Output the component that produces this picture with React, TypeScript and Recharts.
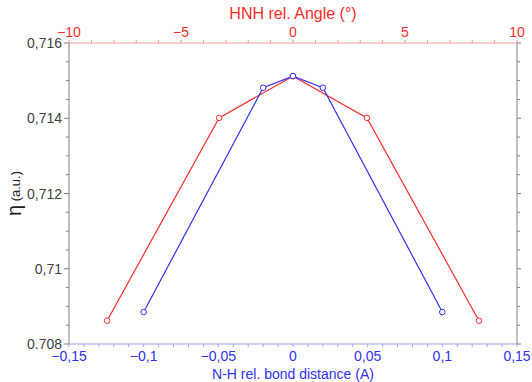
import { LineChart, Line, XAxis, YAxis } from "recharts";

// red series is plotted against the top (angle) axis, blue against the bottom (distance) axis
const angleDeg = [-8.3, -3.3, 0, 3.3, 8.3];
const etaAngle = [0.70862, 0.71401, 0.71512, 0.71401, 0.70862];
const bondDist = [-0.1, -0.02, 0, 0.02, 0.1];
const etaBond = [0.70885, 0.71481, 0.71512, 0.71481, 0.70885];

const yMajor = [0.708, 0.71, 0.712, 0.714, 0.716];
const yLabels = ["0.708", "0,71", "0,712", "0,714", "0,716"];
const topMajor = [-10, -5, 0, 5, 10];
const topLabels = ["\u221210", "\u22125", "0", "5", "10"];
const bottomMajor = [-0.15, -0.1, -0.05, 0, 0.05, 0.1, 0.15];
const bottomLabels = ["\u22120,15", "\u22120,1", "\u22120,05", "0", "0,05", "0,1", "0,15"];

const RED = "#ff2b2b";
const BLUE = "#3030f0";
const FONT = "'Liberation Sans', Arial, sans-serif";

const angleData = angleDeg.map((x, i) => ({ x, y: etaAngle[i] }));
const bondData = bondDist.map((x, i) => ({ x, y: etaBond[i] }));

// minor tick positions between the labelled ones
const steps = (from: number, to: number, step: number) => {
  const out: number[] = [];
  const n = Math.round((to - from) / step);
  for (let i = 0; i <= n; i++) out.push(Number((from + i * step).toFixed(6)));
  return out;
};
const yTicks = steps(0.708, 0.716, 0.0005);
const topTicks = steps(-10, 10, 1);
const bottomTicks = steps(-0.15, 0.15, 0.01);

const labelFor = (v: number, majors: number[], labels: string[]) => {
  const i = majors.findIndex((m) => Math.abs(m - v) < 1e-7);
  return i < 0 ? null : labels[i];
};

const LeftTick = (p: any) => {
  const lab = labelFor(p.payload.value, yMajor, yLabels);
  return (
    <g>
      <line x1={p.x} x2={p.x - (lab ? 5 : 3)} y1={p.y} y2={p.y} stroke="#808080" />
      {lab && (
        <text x={p.x - 7} y={p.y + 5} textAnchor="end" fontSize={14} fill="#404040" fontFamily={FONT}>
          {lab}
        </text>
      )}
    </g>
  );
};

const RightTick = (p: any) => {
  const lab = labelFor(p.payload.value, yMajor, yLabels);
  return <line x1={p.x} x2={p.x + (lab ? 4 : 3)} y1={p.y} y2={p.y} stroke="#808080" />;
};

const TopTick = (p: any) => {
  const lab = labelFor(p.payload.value, topMajor, topLabels);
  return (
    <g>
      <line x1={p.x} x2={p.x} y1={p.y} y2={p.y - 3} stroke="#f49a9a" />
      {lab && (
        <text x={p.x} y={p.y - 6} textAnchor="middle" fontSize={14} fill={RED} fontFamily={FONT}>
          {lab}
        </text>
      )}
    </g>
  );
};

const BottomTick = (p: any) => {
  const lab = labelFor(p.payload.value, bottomMajor, bottomLabels);
  return (
    <g>
      <line x1={p.x} x2={p.x} y1={p.y} y2={p.y + 3} stroke="#a0a4f2" />
      {lab && (
        <text x={p.x} y={p.y + 17} textAnchor="middle" fontSize={14} fill={BLUE} fontFamily={FONT}>
          {lab}
        </text>
      )}
    </g>
  );
};

const YTitle = (p: any) => {
  const vb = p.viewBox || { x: 0, y: 43, height: 301 };
  const cx = vb.x + 21;
  const cy = vb.y + vb.height / 2;
  return (
    <text
      x={cx}
      y={cy}
      transform={`rotate(-90 ${cx} ${cy})`}
      textAnchor="middle"
      fill="#202020"
      fontFamily={FONT}
    >
      <tspan fontSize={20}>{"\u03b7"}</tspan>
      <tspan fontSize={13} dy={-1}>{" (a.u.)"}</tspan>
    </text>
  );
};

export default function App() {
  return (
    <div style={{ position: "absolute", left: 0, top: 0, background: "#fff" }}>
      <LineChart width={532} height={382} margin={{ top: 0, right: 0, bottom: 0, left: 0 }}>
        <XAxis
          xAxisId="top"
          orientation="top"
          type="number"
          dataKey="x"
          domain={[-10, 10]}
          ticks={topTicks}
          interval={0}
          height={43}
          tickSize={0}
          tickMargin={0}
          tick={TopTick}
          axisLine={{ stroke: "#f49a9a" }}
          label={{
            value: "HNH rel. Angle (\u00b0)",
            position: "insideTop",
            offset: 8,
            fill: RED,
            fontSize: 16,
            fontFamily: FONT,
          }}
        />
        <XAxis
          xAxisId="bottom"
          orientation="bottom"
          type="number"
          dataKey="x"
          domain={[-0.15, 0.15]}
          ticks={bottomTicks}
          interval={0}
          height={38}
          tickSize={0}
          tickMargin={0}
          tick={BottomTick}
          axisLine={{ stroke: "#a0a4f2" }}
          label={{
            value: "N-H rel. bond distance (A)",
            position: "insideBottom",
            offset: 3,
            fill: BLUE,
            fontSize: 14,
            fontFamily: FONT,
          }}
        />
        <YAxis
          yAxisId="left"
          orientation="left"
          type="number"
          dataKey="y"
          domain={[0.708, 0.716]}
          ticks={yTicks}
          interval={0}
          width={69}
          tickSize={0}
          tickMargin={0}
          tick={LeftTick}
          axisLine={{ stroke: "#808080" }}
          label={{ content: YTitle }}
        />
        <YAxis
          yAxisId="right"
          orientation="right"
          type="number"
          domain={[0.708, 0.716]}
          allowDataOverflow
          ticks={yTicks}
          interval={0}
          width={15}
          tickSize={0}
          tickMargin={0}
          tick={RightTick}
          axisLine={{ stroke: "#808080" }}
        />
        <Line
          data={angleData}
          xAxisId="top"
          yAxisId="left"
          dataKey="y"
          type="linear"
          stroke={RED}
          strokeWidth={1.2}
          dot={{ r: 2.8, stroke: RED, strokeWidth: 1, fill: "#fff" }}
          isAnimationActive={false}
        />
        <Line
          data={bondData}
          xAxisId="bottom"
          yAxisId="left"
          dataKey="y"
          type="linear"
          stroke={BLUE}
          strokeWidth={1.2}
          dot={{ r: 2.8, stroke: BLUE, strokeWidth: 1, fill: "#fff" }}
          isAnimationActive={false}
        />
      </LineChart>
    </div>
  );
}
